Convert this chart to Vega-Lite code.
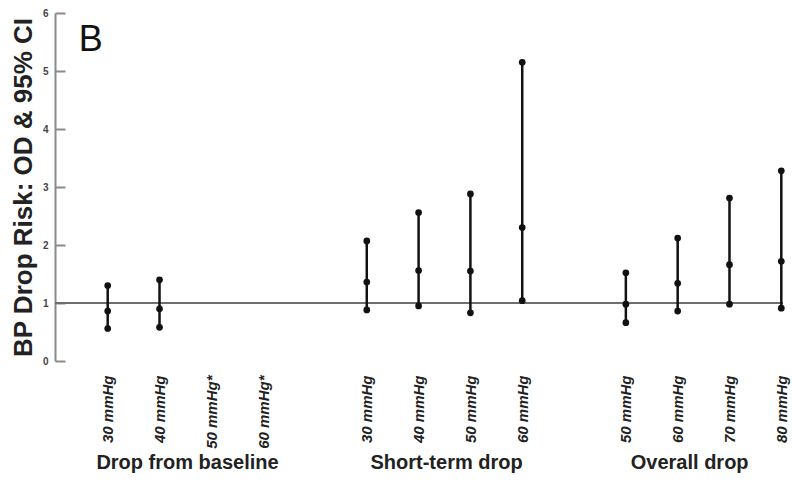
{
  "$schema": "https://vega.github.io/schema/vega-lite/v6.json",
  "autosize": {"type": "none"},
  "padding": {"left": 55, "top": 13, "right": 9, "bottom": 124},
  "width": 728,
  "height": 348,
  "background": "white",
  "config": {"view": {"stroke": null}, "font": "Liberation Sans"},
  "layer": [
    {
      "data": {"values": [{"ref": 1}]},
      "mark": {"type": "rule", "color": "#6e6e6e", "strokeWidth": 2},
      "encoding": {"y": {"field": "ref", "type": "quantitative", "scale": {"domain": [0, 6], "nice": false}}}
    },
    {
      "mark": {"type": "rule", "color": "#8a8a8a", "strokeWidth": 2},
      "encoding": {"y": {"datum": 0, "type": "quantitative"}}
    },
    {
      "data": {"name": "ci", "values": [
        {"key": "B:30 mmHg", "lo": 0.56, "or": 0.86, "hi": 1.30},
        {"key": "B:40 mmHg", "lo": 0.58, "or": 0.90, "hi": 1.40},
        {"key": "S:30 mmHg", "lo": 0.88, "or": 1.36, "hi": 2.07},
        {"key": "S:40 mmHg", "lo": 0.95, "or": 1.56, "hi": 2.56},
        {"key": "S:50 mmHg", "lo": 0.83, "or": 1.55, "hi": 2.88},
        {"key": "S:60 mmHg", "lo": 1.04, "or": 2.30, "hi": 5.15},
        {"key": "O:50 mmHg", "lo": 0.66, "or": 0.98, "hi": 1.52},
        {"key": "O:60 mmHg", "lo": 0.86, "or": 1.34, "hi": 2.12},
        {"key": "O:70 mmHg", "lo": 0.98, "or": 1.66, "hi": 2.81},
        {"key": "O:80 mmHg", "lo": 0.91, "or": 1.72, "hi": 3.28}
      ]},
      "layer": [
        {
          "mark": {"type": "rule", "color": "#111", "strokeWidth": 2.5},
          "encoding": {
            "x": {"field": "key", "type": "ordinal",
              "scale": {"type": "point", "padding": 0, "domain": ["B:30 mmHg", "B:40 mmHg", "B:50 mmHg*", "B:60 mmHg*", "G1", "S:30 mmHg", "S:40 mmHg", "S:50 mmHg", "S:60 mmHg", "G2", "O:50 mmHg", "O:60 mmHg", "O:70 mmHg", "O:80 mmHg"], "range": [52.7, 726.3]},
              "axis": {"title": null, "labelExpr": "slice(datum.value, 2)", "labelAngle": -90, "labelFont": "Liberation Sans", "labelFontSize": 15, "labelFontWeight": "bold", "labelFontStyle": "italic", "labelColor": "#222", "labelPadding": 14, "ticks": false, "domain": false, "labelOverlap": false}},
            "y": {"field": "lo", "type": "quantitative", "scale": {"domain": [0, 6], "nice": false},
              "axis": {"title": "BP Drop Risk: OD & 95% CI", "titleFont": "Liberation Sans", "titleFontSize": 26, "titleFontWeight": "bold", "titleColor": "#222", "titlePadding": 6,
                "values": [0, 1, 2, 3, 4, 5, 6], "format": "d", "tickSize": -10, "tickColor": "#8a8a8a", "tickWidth": 2, "domainColor": "#8a8a8a", "domainWidth": 2, "grid": false,
                "labelFontSize": 10, "labelFontWeight": "bold", "labelColor": "#444", "labelPadding": 17}},
            "y2": {"field": "hi"}
          }
        },
        {
          "transform": [{"fold": ["lo", "or", "hi"], "as": ["stat", "val"]}],
          "mark": {"type": "circle", "color": "#111", "opacity": 1, "size": 45},
          "encoding": {
            "x": {"field": "key", "type": "ordinal"},
            "y": {"field": "val", "type": "quantitative"}
          }
        }
      ]
    },
    {
      "data": {"name": "groups", "values": [
        {"group": "Drop from baseline", "anchor": "B:40 mmHg"},
        {"group": "Short-term drop", "anchor": "S:40 mmHg"},
        {"group": "Overall drop", "anchor": "O:60 mmHg"}
      ]},
      "layer": [
        {
          "transform": [{"filter": "datum.group !== 'Overall drop'"}],
          "mark": {"type": "text", "fontSize": 20, "fontWeight": "bold", "color": "#222", "dx": 28, "dy": 102, "baseline": "middle", "align": "center"},
          "encoding": {
            "x": {"field": "anchor", "type": "ordinal"},
            "y": {"datum": 0, "type": "quantitative"},
            "text": {"field": "group"}
          }
        },
        {
          "transform": [{"filter": "datum.group === 'Overall drop'"}],
          "mark": {"type": "text", "fontSize": 20, "fontWeight": "bold", "color": "#222", "dx": 12, "dy": 102, "baseline": "middle", "align": "center"},
          "encoding": {
            "x": {"field": "anchor", "type": "ordinal"},
            "y": {"datum": 0, "type": "quantitative"},
            "text": {"field": "group"}
          }
        }
      ]
    },
    {
      "data": {"values": [{"panel": "B", "anchor": "B:30 mmHg", "at": 6}]},
      "mark": {"type": "text", "fontSize": 36, "color": "#111", "dx": -17, "dy": 27, "baseline": "middle", "align": "center"},
      "encoding": {
        "x": {"field": "anchor", "type": "ordinal"},
        "y": {"field": "at", "type": "quantitative"},
        "text": {"field": "panel"}
      }
    }
  ]
}
